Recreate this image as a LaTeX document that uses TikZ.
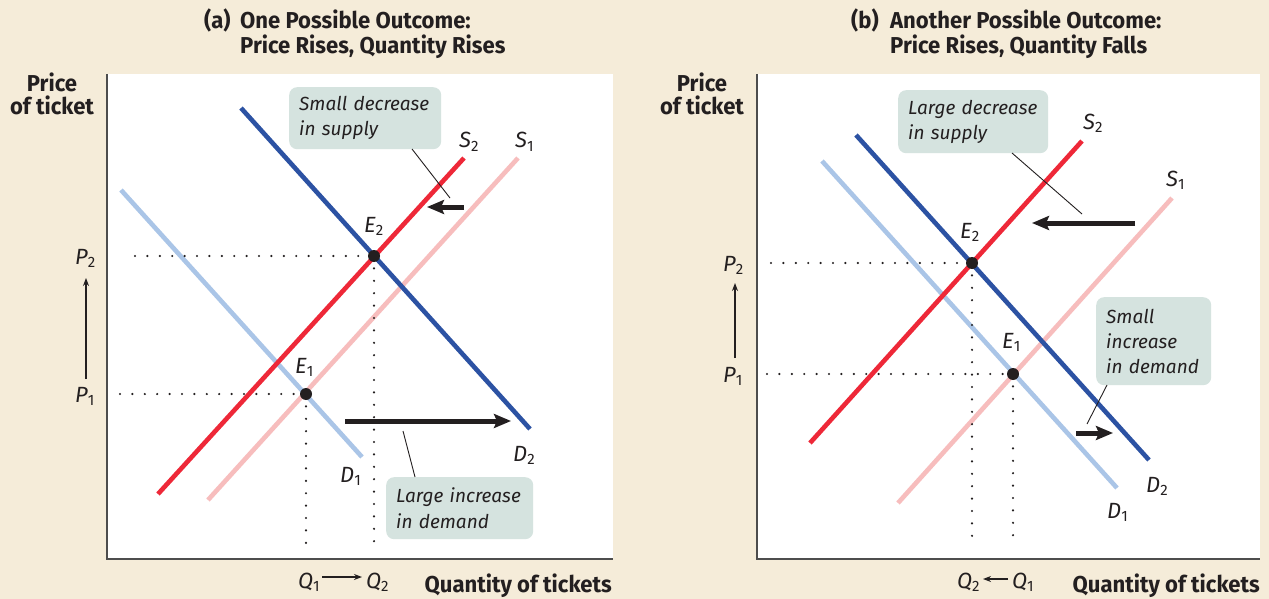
\documentclass[tikz,border=0pt]{standalone}
\usepackage{fontspec}
\setmainfont{Fira Sans}
\newfontfamily\ttlfont{Fira Sans}[FakeStretch=0.96]
\usetikzlibrary{arrows.meta}
\definecolor{bgc}{HTML}{F5ECD9}
\definecolor{axc}{HTML}{4D4D4D}
\definecolor{sone}{HTML}{F7BDBD}
\definecolor{stwo}{HTML}{EE2838}
\definecolor{done}{HTML}{AAC5E7}
\definecolor{dtwo}{HTML}{2C52A3}
\definecolor{callc}{HTML}{D5E3DF}
\definecolor{inkc}{HTML}{231F20}
\newcommand{\lb}[2]{\textit{#1}\raisebox{-3pt}{\fontsize{15}{15}\selectfont #2}}
\begin{document}
\begin{tikzpicture}[x=1pt,y=-1pt,
  curve/.style={line width=4.6pt},
  axisline/.style={line width=2.2pt, draw=axc},
  dotline/.style={line width=2.4pt, dash pattern=on 0pt off 12.4pt, line cap=round, draw=inkc},
  eqpt/.style={circle, fill=inkc, inner sep=0pt, minimum size=12pt},
  lab/.style={font=\fontsize{22}{22}\selectfont, inner sep=0pt, text=inkc},
  ttl/.style={font=\ttlfont\bfseries\fontsize{23}{25}\selectfont, inner sep=0pt, text=inkc},
  axt/.style={font=\ttlfont\bfseries\fontsize{23}{23}\selectfont, inner sep=0pt, text=inkc},
  callout/.style={fill=callc, rounded corners=8pt, align=left, inner xsep=10pt, inner ysep=0pt,
    font=\itshape\fontsize{19}{25}\selectfont, text=inkc, anchor=north west},
  shiftarrow/.style={line width=5pt, draw=inkc, -{Stealth[length=17pt,width=14pt,inset=3pt]}},
  smallarrow/.style={line width=1.4pt, draw=inkc, -{Stealth[length=8pt,width=6pt]}},
  leader/.style={line width=0.9pt, draw=inkc}
]
\useasboundingbox (0,0) rectangle (1269,599);
\fill[bgc] (0,0) rectangle (1269,599);
% white plot areas
\fill[white] (107,74) rectangle (613,559);
\fill[white] (757,74) rectangle (1260,559);

% ---------------- Panel (a) ----------------
\node[ttl, anchor=base west] (ta0) at (204,29) {(a)};
\node[ttl, anchor=base west] (ta1) at (240,29) {One Possible Outcome:};
\node[ttl, anchor=base west] (ta2) at (240,54) {Price Rises, Quantity Rises};
\node[axt, anchor=base] (pa1) at (52,92) {Price};
\node[axt, anchor=base] (pa2) at (52,115) {of ticket};
\node[axt, anchor=base east] (qa) at (612,592) {Quantity of tickets};

\coordinate (oa) at (107,559);
\coordinate (ya) at (107,74);
\coordinate (xa) at (613,559);
\draw[axisline] (ya) -- (oa) -- (xa);

\coordinate (s1a0) at (208,500); \coordinate (s1a1) at (518,158);
\coordinate (s2a0) at (158,494); \coordinate (s2a1) at (464,158);
\coordinate (d1a0) at (121,190); \coordinate (d1a1) at (362,457);
\coordinate (d2a0) at (241,108); \coordinate (d2a1) at (530,429);
\draw[curve, draw=sone] (s1a0) -- (s1a1);
\draw[curve, draw=done] (d1a0) -- (d1a1);
\draw[curve, draw=dtwo] (d2a0) -- (d2a1);
\draw[curve, draw=stwo] (s2a0) -- (s2a1);

\coordinate (E1a) at (306,394);
\coordinate (E2a) at (374,256);
\coordinate (p2sa) at (135,256);
\coordinate (p1sa) at (120,394);
\coordinate (q2ea) at (374,546);
\coordinate (q1ea) at (306,546);
\draw[dotline] (p2sa) -- (E2a);
\draw[dotline] (p1sa) -- (E1a);
\draw[dotline] (E2a) -- (q2ea);
\draw[dotline] (E1a) -- (q1ea);
\node[eqpt] (e1a) at (E1a) {};
\node[eqpt] (e2a) at (E2a) {};

\node[lab, anchor=base west] (le1a) at (295,373) {\lb{E}{1}};
\node[lab, anchor=base west] (le2a) at (364,232) {\lb{E}{2}};
\node[lab, anchor=base west] (ls2a) at (459,148) {\lb{S}{2}};
\node[lab, anchor=base west] (ls1a) at (515,148) {\lb{S}{1}};
\node[lab, anchor=base west] (ld1a) at (340,482) {\lb{D}{1}};
\node[lab, anchor=base west] (ld2a) at (513,461) {\lb{D}{2}};
\node[lab, anchor=base west] (lp2a) at (75,264) {\lb{P}{2}};
\node[lab, anchor=base west] (lp1a) at (75,402) {\lb{P}{1}};
\node[lab, anchor=base west] (lq1a) at (298,588) {\lb{Q}{1}};
\node[lab, anchor=base west] (lq2a) at (366,588) {\lb{Q}{2}};
\draw[smallarrow] (86,379) -- (86,278);
\draw[smallarrow] (322,577) -- (362,577);

\node[callout, minimum width=152pt, minimum height=62pt, text width=132pt] (ca1) at (289,87) {Small decrease\\in supply};
\coordinate (la1) at (450,198);
\draw[leader] (412,149) -- (la1);
\coordinate (sa0) at (464,207); \coordinate (sa1) at (427,207);
\draw[shiftarrow] (sa0) -- (sa1);

\node[callout, minimum width=147pt, minimum height=62pt, text width=127pt] (ca2) at (386,477) {Large increase\\in demand};
\coordinate (la2) at (403,431);
\draw[leader] (415,477) -- (la2);
\coordinate (da0) at (345,421); \coordinate (da1) at (511,421);
\draw[shiftarrow] (da0) -- (da1);

% ---------------- Panel (b) ----------------
\node[ttl, anchor=base west] (tb0) at (851,29) {(b)};
\node[ttl, anchor=base west] (tb1) at (890,29) {Another Possible Outcome:};
\node[ttl, anchor=base west] (tb2) at (890,54) {Price Rises, Quantity Falls};
\node[axt, anchor=base] (pb1) at (702,92) {Price};
\node[axt, anchor=base] (pb2) at (702,115) {of ticket};
\node[axt, anchor=base east] (qb) at (1260,592) {Quantity of tickets};

\coordinate (ob) at (757,559);
\coordinate (yb) at (757,74);
\coordinate (xb) at (1260,559);
\draw[axisline] (yb) -- (ob) -- (xb);

\coordinate (s1b0) at (898,503); \coordinate (s1b1) at (1172,198);
\coordinate (s2b0) at (810,443); \coordinate (s2b1) at (1082,141);
\coordinate (d1b0) at (822,161); \coordinate (d1b1) at (1117,488);
\coordinate (d2b0) at (856,135); \coordinate (d2b1) at (1149,460);
\draw[curve, draw=sone] (s1b0) -- (s1b1);
\draw[curve, draw=done] (d1b0) -- (d1b1);
\draw[curve, draw=dtwo] (d2b0) -- (d2b1);
\draw[curve, draw=stwo] (s2b0) -- (s2b1);

\coordinate (E1b) at (1013,374);
\coordinate (E2b) at (972,263);
\coordinate (p2sb) at (771,263);
\coordinate (p1sb) at (767,374);
\coordinate (q2eb) at (972,543);
\coordinate (q1eb) at (1013,545);
\draw[dotline] (p2sb) -- (E2b);
\draw[dotline] (p1sb) -- (E1b);
\draw[dotline] (E2b) -- (q2eb);
\draw[dotline] (E1b) -- (q1eb);
\node[eqpt] (e1b) at (E1b) {};
\node[eqpt] (e2b) at (E2b) {};

\node[lab, anchor=base west] (le1b) at (1002,348) {\lb{E}{1}};
\node[lab, anchor=base west] (le2b) at (960,238) {\lb{E}{2}};
\node[lab, anchor=base west] (ls2b) at (1083,130) {\lb{S}{2}};
\node[lab, anchor=base west] (ls1b) at (1166,186) {\lb{S}{1}};
\node[lab, anchor=base west] (ld1b) at (1107,518) {\lb{D}{1}};
\node[lab, anchor=base west] (ld2b) at (1146,492) {\lb{D}{2}};
\node[lab, anchor=base west] (lp2b) at (723,271) {\lb{P}{2}};
\node[lab, anchor=base west] (lp1b) at (723,382) {\lb{P}{1}};
\node[lab, anchor=base west] (lq2b) at (957,588) {\lb{Q}{2}};
\node[lab, anchor=base west] (lq1b) at (1012,588) {\lb{Q}{1}};
\draw[smallarrow] (735,358) -- (735,283);
\draw[smallarrow] (1008,579) -- (983,579);

\node[callout, minimum width=150pt, minimum height=63pt, text width=130pt] (cb1) at (898,90) {Large decrease\\in supply};
\coordinate (lb1) at (1082,214);
\draw[leader] (1012,153) -- (lb1);
\coordinate (sb0) at (1135,223); \coordinate (sb1) at (1032,223);
\draw[shiftarrow] (sb0) -- (sb1);

\node[callout, minimum width=115pt, minimum height=88pt, text width=95pt] (cb2) at (1096,297) {Small\\increase\\in demand};
\coordinate (lb2) at (1087,424);
\draw[leader] (1107,385) -- (lb2);
\coordinate (db0) at (1076,433); \coordinate (db1) at (1113,433);
\draw[shiftarrow] (db0) -- (db1);
\end{tikzpicture}
\end{document}
